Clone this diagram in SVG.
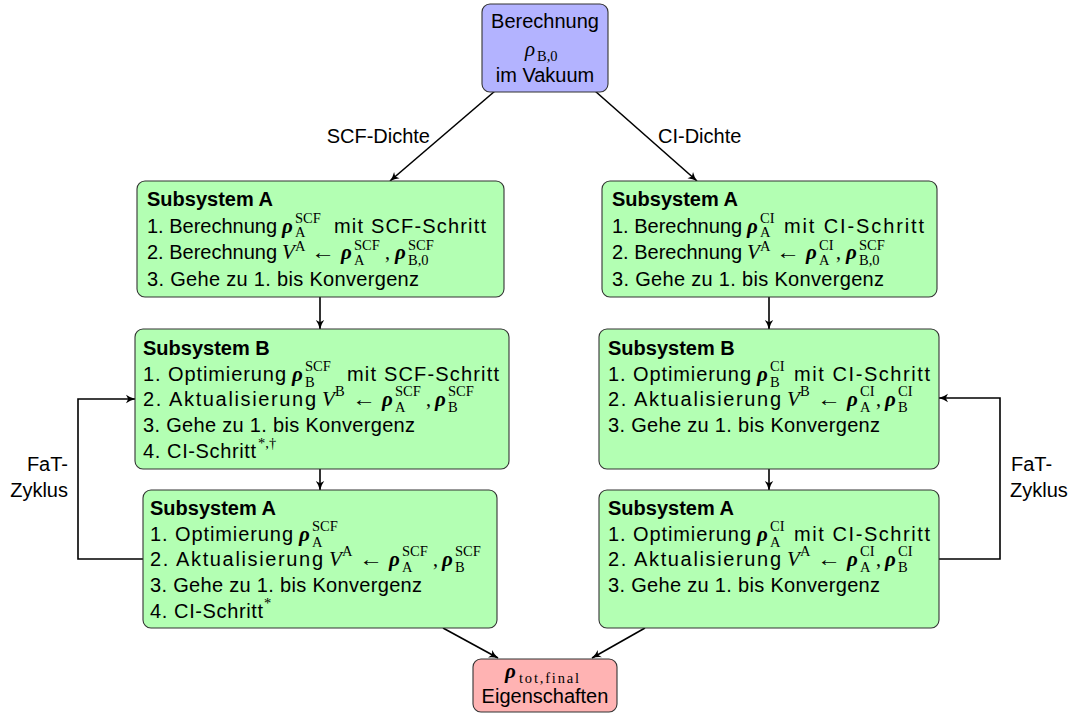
<svg xmlns="http://www.w3.org/2000/svg" width="1076" height="717" viewBox="0 0 1076 717">
<defs>
<style>
.box{stroke:#333;stroke-width:1.1}
.g{fill:#b3ffb3}
.t{font-family:"Liberation Sans",Arial,sans-serif;font-size:20px;fill:#000}
.b{font-weight:bold}
.r{font-family:"Liberation Serif","Times New Roman",serif;font-size:21px;font-style:italic;font-weight:bold;fill:#000}
.ri{font-family:"Liberation Serif","Times New Roman",serif;font-size:21px;font-style:italic;fill:#000}
.s{font-family:"Liberation Serif","Times New Roman",serif;font-size:14.5px;fill:#000}
.c{font-family:"Liberation Serif","Times New Roman",serif;font-size:20px;fill:#000}
.ar{font-family:"Liberation Serif","DejaVu Serif",serif;font-size:20px;fill:#000}
.e{stroke:#000;stroke-width:1.6;fill:none}
</style>
<marker id="ah" viewBox="-1 -5 11 10" refX="9" refY="0" markerWidth="11" markerHeight="10" markerUnits="userSpaceOnUse" orient="auto">
<path d="M0,-4.2 Q4,-1.2 9.5,0 Q4,1.2 0,4.2 L2.2,0 Z" fill="#000"/>
</marker>
</defs>
<rect width="1076" height="717" fill="#fff"/>

<g id="connectors">
<path class="e" d="M495,91 L390,181" marker-end="url(#ah)"/>
<path class="e" d="M595,91 L697,181" marker-end="url(#ah)"/>
<path class="e" d="M320,297 V329" marker-end="url(#ah)"/>
<path class="e" d="M320,469 V490" marker-end="url(#ah)"/>
<path class="e" d="M769,297 V329" marker-end="url(#ah)"/>
<path class="e" d="M769,469 V490" marker-end="url(#ah)"/>
<path class="e" d="M443,628 L498,658" marker-end="url(#ah)"/>
<path class="e" d="M645,628 L592,658" marker-end="url(#ah)"/>
<path class="e" d="M143,559 H78 V399 H135" marker-end="url(#ah)"/>
<path class="e" d="M939,559 H1000 V398 H939" marker-end="url(#ah)"/>
<text class="t" x="430" y="143" text-anchor="end">SCF-Dichte</text>
<text class="t" x="658" y="143">CI-Dichte</text>
<text class="t" x="68" y="471" text-anchor="end">FaT-</text>
<text class="t" x="68" y="497" text-anchor="end">Zyklus</text>
<text class="t" x="1011" y="471">FaT-</text>
<text class="t" x="1010" y="497">Zyklus</text>
</g>

<g id="top">
<rect class="box" x="482" y="4" width="126" height="88" rx="8" fill="#b3b3ff"/>
<text class="t" x="545" y="28" text-anchor="middle">Berechnung</text>
<text class="ri" x="525" y="56">ρ</text>
<text class="s" x="537" y="61">B,0</text>
<text class="t" x="545" y="82" text-anchor="middle">im Vakuum</text>
</g>

<g id="leftA1">
<rect class="box g" x="137" y="181" width="367" height="116" rx="8"/>
<text class="t b" x="147" y="206">Subsystem A</text>
<text class="t" x="147" y="233" textLength="130">1. Berechnung</text>
<text class="r" x="282" y="233">ρ</text>
<text class="s" x="295" y="223">SCF</text>
<text class="s" x="295" y="237">A</text>
<text class="t" x="334" y="233" textLength="152">mit SCF-Schritt</text>
<text class="t" x="147" y="259" textLength="130">2. Berechnung</text>
<text class="ri" x="282" y="259">V</text>
<text class="s" x="295" y="251">A</text>
<text class="ar" x="311" y="259" textLength="24" lengthAdjust="spacingAndGlyphs">←</text>
<text class="r" x="341" y="259">ρ</text>
<text class="s" x="354" y="250">SCF</text>
<text class="s" x="354" y="265">A</text>
<text class="c" x="385" y="259">,</text>
<text class="r" x="395" y="259">ρ</text>
<text class="s" x="408" y="250">SCF</text>
<text class="s" x="408" y="265">B,0</text>
<text class="t" x="147" y="286" textLength="272">3. Gehe zu 1. bis Konvergenz</text>
</g>

<g id="rightA1">
<rect class="box g" x="602" y="181" width="335" height="116" rx="8"/>
<text class="t b" x="612" y="206">Subsystem A</text>
<text class="t" x="612" y="233" textLength="130">1. Berechnung</text>
<text class="r" x="747" y="233">ρ</text>
<text class="s" x="760" y="223">CI</text>
<text class="s" x="760" y="237">A</text>
<text class="t" x="784" y="233" textLength="140">mit CI-Schritt</text>
<text class="t" x="612" y="259" textLength="130">2. Berechnung</text>
<text class="ri" x="747" y="259">V</text>
<text class="s" x="760" y="251">A</text>
<text class="ar" x="776" y="259" textLength="24" lengthAdjust="spacingAndGlyphs">←</text>
<text class="r" x="806" y="259">ρ</text>
<text class="s" x="819" y="250">CI</text>
<text class="s" x="819" y="265">A</text>
<text class="c" x="836" y="259">,</text>
<text class="r" x="846" y="259">ρ</text>
<text class="s" x="859" y="250">SCF</text>
<text class="s" x="859" y="265">B,0</text>
<text class="t" x="612" y="286" textLength="272">3. Gehe zu 1. bis Konvergenz</text>
</g>

<g id="leftB">
<rect class="box g" x="135" y="329" width="374" height="140" rx="8"/>
<text class="t b" x="143" y="355">Subsystem B</text>
<text class="t" x="143" y="381" textLength="143">1. Optimierung</text>
<text class="r" x="292" y="381">ρ</text>
<text class="s" x="305" y="371">SCF</text>
<text class="s" x="305" y="387">B</text>
<text class="t" x="347" y="381" textLength="152">mit SCF-Schritt</text>
<text class="t" x="143" y="406" textLength="173">2. Aktualisierung</text>
<text class="ri" x="322" y="406">V</text>
<text class="s" x="335" y="396">B</text>
<text class="ar" x="352" y="406" textLength="24" lengthAdjust="spacingAndGlyphs">←</text>
<text class="r" x="382" y="406">ρ</text>
<text class="s" x="395" y="396">SCF</text>
<text class="s" x="395" y="412">A</text>
<text class="c" x="426" y="406">,</text>
<text class="r" x="435" y="406">ρ</text>
<text class="s" x="448" y="396">SCF</text>
<text class="s" x="448" y="412">B</text>
<text class="t" x="143" y="432" textLength="272">3. Gehe zu 1. bis Konvergenz</text>
<text class="t" x="143" y="458" textLength="113">4. CI-Schritt</text>
<text class="s" x="258" y="448">*,†</text>
</g>

<g id="rightB">
<rect class="box g" x="599" y="329" width="340" height="140" rx="8"/>
<text class="t b" x="608" y="355">Subsystem B</text>
<text class="t" x="608" y="381" textLength="143">1. Optimierung</text>
<text class="r" x="757" y="381">ρ</text>
<text class="s" x="770" y="371">CI</text>
<text class="s" x="770" y="387">B</text>
<text class="t" x="794" y="381" textLength="136">mit CI-Schritt</text>
<text class="t" x="608" y="406" textLength="173">2. Aktualisierung</text>
<text class="ri" x="787" y="406">V</text>
<text class="s" x="800" y="396">B</text>
<text class="ar" x="817" y="406" textLength="24" lengthAdjust="spacingAndGlyphs">←</text>
<text class="r" x="847" y="406">ρ</text>
<text class="s" x="860" y="396">CI</text>
<text class="s" x="860" y="412">A</text>
<text class="c" x="876" y="406">,</text>
<text class="r" x="885" y="406">ρ</text>
<text class="s" x="898" y="396">CI</text>
<text class="s" x="898" y="412">B</text>
<text class="t" x="608" y="432" textLength="272">3. Gehe zu 1. bis Konvergenz</text>
</g>

<g id="leftA2">
<rect class="box g" x="143" y="490" width="354" height="138" rx="8"/>
<text class="t b" x="150" y="515">Subsystem A</text>
<text class="t" x="150" y="541" textLength="143">1. Optimierung</text>
<text class="r" x="299" y="541">ρ</text>
<text class="s" x="312" y="531">SCF</text>
<text class="s" x="312" y="547">A</text>
<text class="t" x="150" y="566" textLength="173">2. Aktualisierung</text>
<text class="ri" x="329" y="566">V</text>
<text class="s" x="342" y="556">A</text>
<text class="ar" x="359" y="566" textLength="24" lengthAdjust="spacingAndGlyphs">←</text>
<text class="r" x="389" y="566">ρ</text>
<text class="s" x="402" y="556">SCF</text>
<text class="s" x="402" y="572">A</text>
<text class="c" x="433" y="566">,</text>
<text class="r" x="442" y="566">ρ</text>
<text class="s" x="455" y="556">SCF</text>
<text class="s" x="455" y="572">B</text>
<text class="t" x="150" y="592" textLength="272">3. Gehe zu 1. bis Konvergenz</text>
<text class="t" x="150" y="618" textLength="113">4. CI-Schritt</text>
<text class="s" x="264" y="608">*</text>
</g>

<g id="rightA2">
<rect class="box g" x="599" y="490" width="340" height="138" rx="8"/>
<text class="t b" x="608" y="515">Subsystem A</text>
<text class="t" x="608" y="541" textLength="143">1. Optimierung</text>
<text class="r" x="757" y="541">ρ</text>
<text class="s" x="770" y="531">CI</text>
<text class="s" x="770" y="547">A</text>
<text class="t" x="794" y="541" textLength="136">mit CI-Schritt</text>
<text class="t" x="608" y="566" textLength="173">2. Aktualisierung</text>
<text class="ri" x="787" y="566">V</text>
<text class="s" x="800" y="556">A</text>
<text class="ar" x="817" y="566" textLength="24" lengthAdjust="spacingAndGlyphs">←</text>
<text class="r" x="847" y="566">ρ</text>
<text class="s" x="860" y="556">CI</text>
<text class="s" x="860" y="572">A</text>
<text class="c" x="876" y="566">,</text>
<text class="r" x="885" y="566">ρ</text>
<text class="s" x="898" y="556">CI</text>
<text class="s" x="898" y="572">B</text>
<text class="t" x="608" y="592" textLength="272">3. Gehe zu 1. bis Konvergenz</text>
</g>

<g id="bottom">
<rect class="box" x="473" y="659" width="144" height="53" rx="8" fill="#ffb3b3"/>
<text class="r" x="505" y="678">ρ</text>
<text class="s" x="519" y="683" textLength="60">tot,final</text>
<text class="t" x="545" y="703" text-anchor="middle">Eigenschaften</text>
</g>
</svg>
